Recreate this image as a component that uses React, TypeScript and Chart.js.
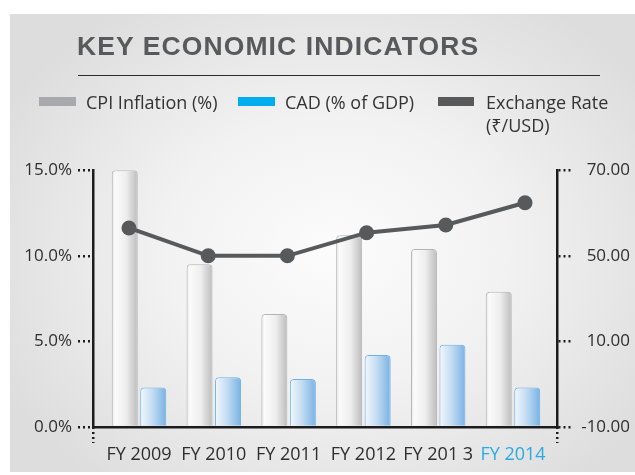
import React, { useEffect, useRef } from "react";
import { Chart, registerables, LinearScale } from "chart.js";

Chart.register(...registerables);

// ---- data ----
const categories = ["FY 2009", "FY 2010", "FY 2011", "FY 2012", "FY 201 3", "FY 2014"];
const cpiInflation = [15.0, 9.5, 6.6, 11.2, 10.4, 7.9];
const cadPctGdp = [2.3, 2.9, 2.8, 4.2, 4.8, 2.3];
const exchangeRate = [56.5, 50.0, 50.0, 55.4, 57.2, 62.4];
const leftTicks = [0, 5, 10, 15];
const rightTicks = [-10, 10, 50, 70];

// right axis: evenly spaced, piecewise-linear ticks as in the original graphic
class PiecewiseScale extends LinearScale {
  static id = "piecewise";
  static defaults = LinearScale.defaults;
  determineDataLimits() {
    this.min = rightTicks[0];
    this.max = rightTicks[rightTicks.length - 1];
  }
  buildTicks() {
    return rightTicks.map((v) => ({ value: v }));
  }
  getPixelForValue(v: number) {
    const b = rightTicks;
    const n = b.length - 1;
    let i = 0;
    while (i < n - 1 && v > b[i + 1]) i++;
    const dec = (i + (v - b[i]) / (b[i + 1] - b[i])) / n;
    return this.getPixelForDecimal(dec);
  }
  getValueForPixel(p: number) {
    const b = rightTicks;
    const n = b.length - 1;
    const d = this.getDecimalForPixel(p) * n;
    const i = Math.max(0, Math.min(n - 1, Math.floor(d)));
    return b[i] + (d - i) * (b[i + 1] - b[i]);
  }
}
Chart.register(PiecewiseScale as any);

const FONT = "'Open Sans', 'Noto Sans', sans-serif";
const DOT = "#1c1c1c";
const CAT_PCT = 0.762;
const BAR_PCT = 0.912;

function barGradient(ctx: any, dsIndex: number, stops: [number, string][]) {
  const chart = ctx.chart;
  const xs = chart.scales?.x;
  if (!xs || ctx.dataIndex == null || !chart.ctx) return stops[stops.length - 1][1];
  const spacing = Math.abs(xs.getPixelForValue(1) - xs.getPixelForValue(0));
  const chunk = (spacing * CAT_PCT) / 2;
  const w = chunk * BAR_PCT;
  const c = xs.getPixelForValue(ctx.dataIndex) + (dsIndex - 0.5) * chunk;
  if (!isFinite(c) || !isFinite(w)) return stops[stops.length - 1][1];
  const g = chart.ctx.createLinearGradient(c - w / 2, 0, c + w / 2, 0);
  stops.forEach(([o, col]) => g.addColorStop(o, col));
  return g;
}

export default function App() {
  const canvasRef = useRef<HTMLCanvasElement | null>(null);

  useEffect(() => {
    if (!canvasRef.current) return;
    Chart.defaults.font.family = FONT;

    const dottedGrid = (tickLength: number, color: any) => ({
      drawOnChartArea: false,
      drawTicks: true,
      offset: false,
      tickLength,
      lineWidth: 2.5,
      color,
      tickColor: color,
      tickBorderDash: [2, 3],
    });
    const dottedBorder = { display: true, color: DOT, width: 2.5, dash: [2, 3] };

    const chart = new Chart(canvasRef.current, {
      type: "bar",
      data: {
        datasets: [
          {
            type: "line",
            label: "Exchange Rate (₹/USD)",
            data: categories.map((_, i) => ({ x: i, y: exchangeRate[i] })),
            xAxisID: "xl",
            yAxisID: "y2",
            borderColor: "#58595b",
            backgroundColor: "#58595b",
            borderWidth: 4,
            pointRadius: 7.5,
            pointBorderWidth: 0,
            pointBackgroundColor: "#58595b",
            tension: 0,
            order: 0,
          } as any,
          {
            type: "bar",
            label: "CPI Inflation (%)",
            data: categories.map((_, i) => ({ x: i, y: cpiInflation[i] })),
            xAxisID: "x",
            yAxisID: "y",
            backgroundColor: (ctx: any) =>
              barGradient(ctx, 0, [
                [0, "#e2e2e2"],
                [0.12, "#fbfbfb"],
                [0.55, "#eeeeee"],
                [1, "#bcbcbd"],
              ]),
            borderColor: "#b4b4b6",
            borderWidth: 1,
            borderSkipped: "bottom",
            borderRadius: { topLeft: 4, topRight: 4, bottomLeft: 0, bottomRight: 0 },
            categoryPercentage: CAT_PCT,
            barPercentage: BAR_PCT,
            order: 1,
          } as any,
          {
            type: "bar",
            label: "CAD (% of GDP)",
            data: categories.map((_, i) => ({ x: i, y: cadPctGdp[i] })),
            xAxisID: "x",
            yAxisID: "y",
            backgroundColor: (ctx: any) =>
              barGradient(ctx, 1, [
                [0, "#f3f8fd"],
                [0.45, "#c5ddf3"],
                [1, "#78b2e3"],
              ]),
            borderColor: "#6cb0ea",
            borderWidth: 1,
            borderSkipped: "bottom",
            borderRadius: { topLeft: 4, topRight: 4, bottomLeft: 0, bottomRight: 0 },
            categoryPercentage: CAT_PCT,
            barPercentage: BAR_PCT,
            order: 1,
          } as any,
        ],
      },
      options: {
        animation: false,
        responsive: false,
        layout: { padding: { top: 13, right: 5, left: 0, bottom: 0 } },
        plugins: { legend: { display: false }, tooltip: { enabled: false } },
        scales: {
          xl: {
            type: "linear",
            position: "bottom",
            weight: 0,
            offset: false,
            min: -0.4545,
            max: 5.404,
            afterBuildTicks: (axis: any) => {
              axis.ticks = [{ value: axis.min }, { value: axis.max }];
            },
            afterFit: (axis: any) => {
              axis.height = 0;
            },
            ticks: { display: false },
            grid: dottedGrid(16, DOT),
            border: { display: false },
          } as any,
          x: {
            type: "linear",
            position: "bottom",
            weight: 1,
            offset: false,
            min: -0.615,
            max: 5.588,
            afterBuildTicks: (axis: any) => {
              axis.ticks = categories.map((_, i) => ({ value: i }));
            },
            afterFit: (axis: any) => {
              axis.height = 45;
            },
            ticks: {
              autoSkip: false,
              maxRotation: 0,
              padding: 1,
              font: { size: 18 },
              color: (ctx: any) => (ctx.index === categories.length - 1 ? "#29abe2" : "#2e2e2e"),
              callback: (_v: any, index: number) => categories[index],
            },
            grid: dottedGrid(16, "rgba(0,0,0,0)"),
            border: dottedBorder,
          } as any,
          y: {
            type: "linear",
            position: "left",
            min: 0,
            max: 15,
            afterBuildTicks: (axis: any) => {
              axis.ticks = leftTicks.map((v) => ({ value: v }));
            },
            afterFit: (axis: any) => {
              axis.width = 83;
            },
            ticks: {
              padding: 6,
              font: { size: 17 },
              color: "#2e2e2e",
              callback: (v: any) => Number(v).toFixed(1) + "%",
            },
            grid: dottedGrid(15, DOT),
            border: dottedBorder,
          } as any,
          y2: {
            type: "piecewise",
            position: "right",
            afterFit: (axis: any) => {
              axis.width = 73;
            },
            ticks: {
              crossAlign: "far",
              padding: 6,
              font: { size: 17 },
              color: "#2e2e2e",
              callback: (v: any) => Number(v).toFixed(2),
            },
            grid: dottedGrid(15, DOT),
            border: dottedBorder,
          } as any,
        },
      } as any,
    });

    // calibrate bar grouping so each bar gets the intended share of its category slot
    const xs: any = chart.scales.x;
    const spacing = Math.abs(xs.getPixelForValue(1) - xs.getPixelForValue(0));
    const wanted = ((spacing * CAT_PCT) / 2) * BAR_PCT;
    const el: any = chart.getDatasetMeta(1).data[0];
    if (el && el.width > 0 && Math.abs(el.width - wanted) > 0.5) {
      const factor = wanted / el.width;
      [1, 2].forEach((d) => {
        (chart.data.datasets[d] as any).categoryPercentage = CAT_PCT * factor;
      });
      chart.update("none");
    }
    return () => chart.destroy();
  }, []);

  const legendText: React.CSSProperties = {
    position: "absolute",
    top: 76.8,
    fontFamily: FONT,
    fontSize: 18,
    lineHeight: "23.5px",
    color: "#333",
    whiteSpace: "nowrap",
  };
  const swatch = (left: number, width: number, color: string): React.CSSProperties => ({
    position: "absolute",
    left,
    top: 83,
    width,
    height: 9,
    background: color,
  });

  return (
    <div
      style={{
        position: "fixed",
        left: 10,
        top: 14,
        width: 625,
        height: 458,
        overflow: "hidden",
        background:
          "radial-gradient(ellipse 60% 65% at 52% 52%, #fcfcfc 0%, #f2f2f2 45%, #dddddd 100%)",
      }}
    >
      <div
        style={{
          position: "absolute",
          left: 67,
          top: 18.5,
          fontFamily: "'Liberation Sans', Arial, sans-serif",
          fontWeight: 700,
          fontSize: 26.5,
          letterSpacing: "1.1px",
          lineHeight: 1,
          color: "#58595b",
          whiteSpace: "nowrap",
        }}
      >
        KEY ECONOMIC INDICATORS
      </div>
      <div style={{ position: "absolute", left: 68, top: 61, width: 522, height: 1, background: "#2b2b2b" }} />
      <div style={swatch(29, 37, "#a7a9ac")} />
      <div style={{ ...legendText, left: 76 }}>CPI Inflation (%)</div>
      <div style={swatch(228, 37, "#00aeef")} />
      <div style={{ ...legendText, left: 275 }}>CAD (% of GDP)</div>
      <div style={swatch(428, 36, "#58595b")} />
      <div style={{ ...legendText, left: 476 }}>
        Exchange Rate
        <br />
        (₹/USD)
      </div>
      <canvas
        ref={canvasRef}
        width={625}
        height={318}
        style={{ position: "absolute", left: 0, top: 140, width: 625, height: 318 }}
      />
    </div>
  );
}
